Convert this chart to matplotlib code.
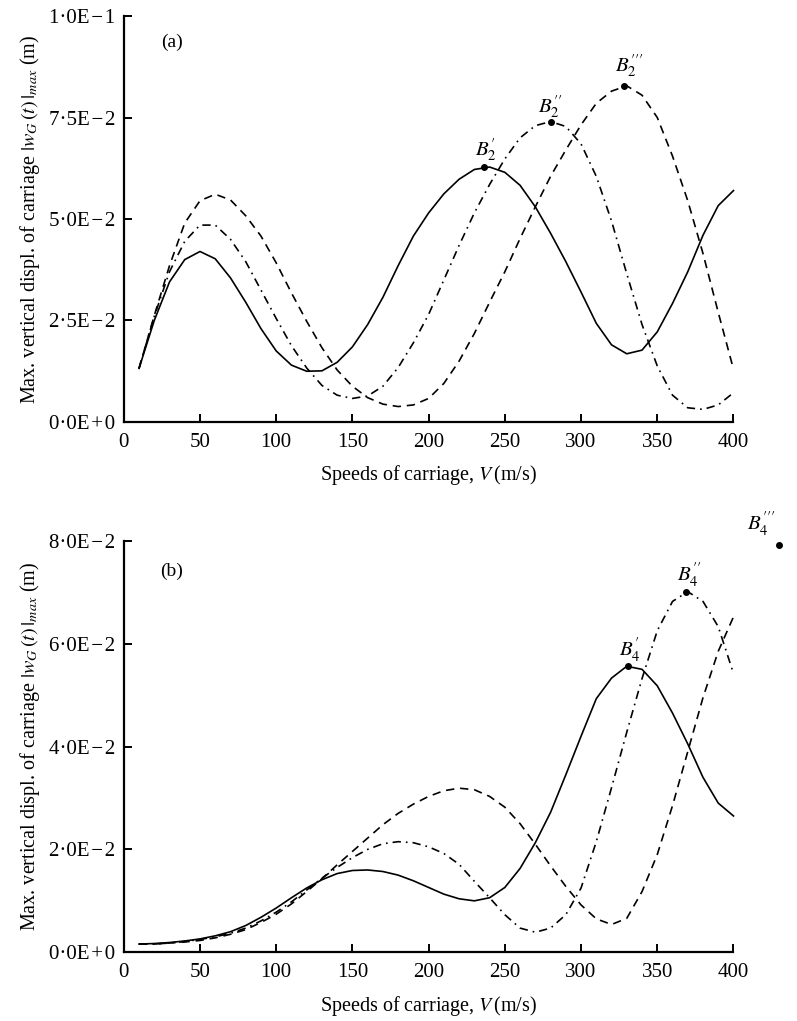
import matplotlib
matplotlib.use("Agg")
import matplotlib.pyplot as plt

plt.rcParams["font.family"] = ["Liberation Serif", "DejaVu Serif"]
plt.rcParams["mathtext.fontset"] = "stix"

# speeds (m/s)
speed = list(range(10, 401, 10))

# panel (a) - max vertical displacement of carriage
a_solid = [0.0132, 0.0250, 0.0345, 0.0400, 0.0420, 0.0402, 0.0355, 0.0295, 0.0230, 0.0175,
           0.0140, 0.0125, 0.0126, 0.0147, 0.0185, 0.0240, 0.0307, 0.0385, 0.0458, 0.0515,
           0.0562, 0.0598, 0.0622, 0.0628, 0.0615, 0.0583, 0.0530, 0.0465, 0.0395, 0.0320,
           0.0243, 0.0190, 0.0168, 0.0177, 0.0222, 0.0292, 0.0370, 0.0460, 0.0533, 0.0570]
a_dashdot = [0.0132, 0.0260, 0.0370, 0.0445, 0.0485, 0.0485, 0.0450, 0.0395, 0.0325, 0.0255,
             0.0188, 0.0133, 0.0090, 0.0066, 0.0058, 0.0064, 0.0088, 0.0134, 0.0195, 0.0265,
             0.0350, 0.0435, 0.0515, 0.0585, 0.0648, 0.0700, 0.0730, 0.0740, 0.0728, 0.0685,
             0.0605, 0.0495, 0.0365, 0.0240, 0.0138, 0.0066, 0.0035, 0.0031, 0.0042, 0.0072]
a_dashed = [0.0132, 0.0262, 0.0385, 0.0490, 0.0545, 0.0561, 0.0547, 0.0508, 0.0458, 0.0392,
            0.0318, 0.0248, 0.0183, 0.0128, 0.0088, 0.0060, 0.0044, 0.0038, 0.0042, 0.0058,
            0.0095, 0.0150, 0.0218, 0.0295, 0.0370, 0.0452, 0.0530, 0.0605, 0.0670, 0.0732,
            0.0785, 0.0815, 0.0828, 0.0805, 0.0750, 0.0655, 0.0545, 0.0415, 0.0270, 0.0130]

# panel (b)
b_solid = [0.0016, 0.0017, 0.0019, 0.0022, 0.0026, 0.0032, 0.0040, 0.0052, 0.0068, 0.0086,
           0.0106, 0.0125, 0.0141, 0.0153, 0.0159, 0.0160, 0.0157, 0.0150, 0.0139, 0.0126,
           0.0113, 0.0104, 0.0100, 0.0106, 0.0126, 0.0163, 0.0213, 0.0272, 0.0345, 0.0420,
           0.0493, 0.0533, 0.0556, 0.0550, 0.0518, 0.0465, 0.0405, 0.0340, 0.0290, 0.0265]
b_dashdot = [0.0016, 0.0016, 0.0018, 0.0021, 0.0025, 0.0030, 0.0037, 0.0047, 0.0061, 0.0078,
             0.0098, 0.0121, 0.0144, 0.0165, 0.0184, 0.0200, 0.0211, 0.0215, 0.0213, 0.0205,
             0.0192, 0.0171, 0.0138, 0.0106, 0.0073, 0.0047, 0.0039, 0.0047, 0.0073, 0.0125,
             0.0215, 0.0320, 0.0428, 0.0532, 0.0625, 0.0682, 0.0701, 0.0682, 0.0633, 0.0542]
b_dashed = [0.0016, 0.0016, 0.0018, 0.0020, 0.0023, 0.0028, 0.0035, 0.0044, 0.0058, 0.0074,
            0.0094, 0.0118, 0.0143, 0.0170, 0.0196, 0.0222, 0.0248, 0.0270, 0.0288, 0.0303,
            0.0314, 0.0319, 0.0316, 0.0303, 0.0282, 0.0250, 0.0210, 0.0168, 0.0128, 0.0092,
            0.0065, 0.0054, 0.0066, 0.0118, 0.0190, 0.0285, 0.0390, 0.0495, 0.0585, 0.0652]

# peak points
a_peak_x = [236, 280, 328]
a_peak_y = [0.0628, 0.0740, 0.0828]
a_peak_lbl = [r"$B_2'$", r"$B_2''$", r"$B_2'''$"]
b_peak_x = [331, 369, 430]
b_peak_y = [0.0557, 0.0701, 0.0792]
b_peak_lbl = [r"$B_4'$", r"$B_4''$", r"$B_4'''$"]

xticks = [0, 50, 100, 150, 200, 250, 300, 350, 400]
a_yticks = [0, 0.025, 0.05, 0.075, 0.1]
a_ylabels = ["0·0E\u200a+\u200a0", "2·5E\u200a−\u200a2", "5·0E\u200a−\u200a2",
             "7·5E\u200a−\u200a2", "1·0E\u200a−\u200a1"]
b_yticks = [0, 0.02, 0.04, 0.06, 0.08]
b_ylabels = ["0·0E\u200a+\u200a0", "2·0E\u200a−\u200a2", "4·0E\u200a−\u200a2",
             "6·0E\u200a−\u200a2", "8·0E\u200a−\u200a2"]

fig = plt.figure(figsize=(7.97, 10.21), dpi=100)
ax1 = fig.add_axes([0.1553, 0.5867, 0.765, 0.3976])
ax2 = fig.add_axes([0.1553, 0.0673, 0.765, 0.4031])

dashed = (0, (5, 3.5))
dashdot = (0, (5, 3, 1, 3))
ylab = r"Max. vertical displ. of carriage $|w_G\,(t)\,|_{max}$ (m)"
xlab = r"Speeds of carriage, $V\,$(m/s)"


def style(ax, yticks, ylabels, ymax):
    ax.set_xlim(0, 400)
    ax.set_ylim(0, ymax)
    for s in ["top", "right"]:
        ax.spines[s].set_visible(False)
    for s in ["left", "bottom"]:
        ax.spines[s].set_linewidth(1.6)
    ax.set_xticks(xticks)
    ax.set_xticklabels([str(t) for t in xticks])
    ax.set_yticks(yticks)
    ax.set_yticklabels(ylabels)
    ax.tick_params(direction="in", length=6, width=1.4, labelsize=15)
    ax.tick_params(axis="x", pad=8)
    ax.tick_params(axis="y", pad=6)
    ax.set_xlabel(xlab, fontsize=14.5, labelpad=8)
    ax.set_ylabel(ylab, fontsize=14.5, labelpad=5)


ax1.plot(speed, a_solid, color="black", lw=1.2, clip_on=False)
ax1.plot(speed, a_dashdot, color="black", lw=1.2, ls=dashdot, clip_on=False)
ax1.plot(speed, a_dashed, color="black", lw=1.2, ls=dashed, clip_on=False)
ax1.plot(a_peak_x, a_peak_y, "o", color="black", ms=4, clip_on=False)
offs_a = [(2, 17), (0, 15), (6, 20)]
for x, y, t, o in zip(a_peak_x, a_peak_y, a_peak_lbl, offs_a):
    ax1.annotate(t, (x, y), xytext=o, textcoords="offset pixels",
                 ha="center", va="center", fontsize=15, annotation_clip=False)
ax1.text(0.079, 0.936, "(a)", transform=ax1.transAxes, fontsize=14, ha="center", va="center")
style(ax1, a_yticks, a_ylabels, 0.1)

ax2.plot(speed, b_solid, color="black", lw=1.2, clip_on=False)
ax2.plot(speed, b_dashdot, color="black", lw=1.2, ls=dashdot, clip_on=False)
ax2.plot(speed, b_dashed, color="black", lw=1.2, ls=dashed, clip_on=False)
ax2.plot(b_peak_x, b_peak_y, "o", color="black", ms=4, clip_on=False)
offs_b = [(2, 15), (3, 16), (-18, 20)]
for x, y, t, o in zip(b_peak_x, b_peak_y, b_peak_lbl, offs_b):
    ax2.annotate(t, (x, y), xytext=o, textcoords="offset pixels",
                 ha="center", va="center", fontsize=15, annotation_clip=False)
ax2.text(0.079, 0.926, "(b)", transform=ax2.transAxes, fontsize=14, ha="center", va="center")
style(ax2, b_yticks, b_ylabels, 0.08)

fig.savefig("out.png", dpi=100)
